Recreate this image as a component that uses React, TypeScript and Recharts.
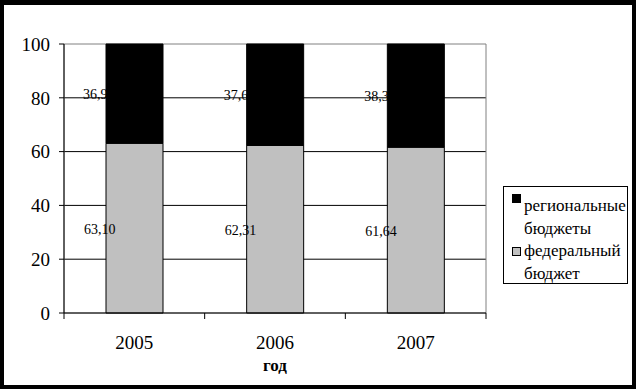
import React from 'react';
import { BarChart, Bar, XAxis, YAxis, CartesianGrid, ReferenceArea, Legend, LabelList } from 'recharts';

const years = ['2005', '2006', '2007'];
const federal = [63.1, 62.31, 61.64];
const regional = [36.9, 37.69, 38.36];
const yTicks = [0, 20, 40, 60, 80, 100];
const gridValues = [20, 40, 60, 80];
const federalName = 'федеральный бюджет';
const regionalName = 'региональные бюджеты';
const axisTitle = 'год';

const data = years.map((y, i) => ({ year: y, federal: federal[i], regional: regional[i] }));

const FONT = '"Liberation Serif", "Times New Roman", serif';
const fmt = (v: number) => v.toFixed(2).replace('.', ',');

const XTick = (props: any) => {
  const { x, y, payload, index } = props;
  const off = payload && payload.offset ? payload.offset : 0;
  return (
    <g>
      <line x1={x - off} y1={y} x2={x - off} y2={y + 6} stroke="#000" />
      {index === years.length - 1 && <line x1={x + off} y1={y} x2={x + off} y2={y + 6} stroke="#000" />}
      <text x={x} y={y + 36} textAnchor="middle" fontFamily={FONT} fontSize={19} fill="#000">
        {payload.value}
      </text>
    </g>
  );
};

const makeLabel = (shift: number, dyv: number) => (props: any) => {
  const { x, y, height, value } = props;
  return (
    <text
      x={Number(x) + shift}
      y={Number(y) + Number(height) / 2 + dyv}
      fontFamily={FONT}
      fontSize={14}
      fill="#000"
      dominantBaseline="middle"
    >
      {fmt(Number(value))}
    </text>
  );
};

const LegendBox = () => {
  const lineStyle = (top: number): React.CSSProperties => ({
    position: 'absolute',
    left: 20,
    top,
    fontFamily: FONT,
    fontSize: 17,
    lineHeight: '20px',
    whiteSpace: 'nowrap',
    color: '#000',
  });
  const sw = (top: number, color: string): React.CSSProperties => ({
    position: 'absolute',
    left: 8,
    top,
    width: 9,
    height: 9,
    boxSizing: 'border-box',
    border: '1px solid #000',
    background: color,
  });
  const [r1, r2] = regionalName.split(' ');
  const [f1, f2] = federalName.split(' ');
  return (
    <div
      style={{
        position: 'relative',
        width: 125,
        height: 98,
        boxSizing: 'border-box',
        border: '1px solid #000',
        background: '#fff',
      }}
    >
      <div style={sw(7, '#000')} />
      <div style={lineStyle(9)}>{r1}</div>
      <div style={lineStyle(32)}>{r2}</div>
      <div style={sw(60, '#c0c0c0')} />
      <div style={lineStyle(54)}>{f1}</div>
      <div style={lineStyle(77)}>{f2}</div>
    </div>
  );
};

export default function App() {
  return (
    <div
      style={{
        position: 'absolute',
        left: 0,
        top: 0,
        width: 636,
        height: 389,
        boxSizing: 'border-box',
        borderStyle: 'solid',
        borderColor: '#000',
        borderWidth: '5px 4px 4px 4px',
        background: '#fff',
      }}
    >
      <BarChart
        width={628}
        height={380}
        data={data}
        margin={{ top: 39, right: 146, bottom: 0, left: 0 }}
      >
        <ReferenceArea y1={0} y2={100} fill="none" stroke="#808080" strokeWidth={1} ifOverflow="visible" />
        <CartesianGrid horizontal={true} vertical={false} horizontalValues={gridValues} stroke="#000" strokeOpacity={1} />
        <XAxis
          dataKey="year"
          height={72}
          axisLine={{ stroke: '#000' }}
          tickLine={false}
          tickSize={0}
          tickMargin={0}
          tick={<XTick />}
          interval={0}
          label={{ value: axisTitle, position: 'insideBottom', offset: 14, fontFamily: FONT, fontSize: 17, fontWeight: 'bold', fill: '#000' }}
        />
        <YAxis
          width={60}
          domain={[0, 100]}
          ticks={yTicks}
          interval={0}
          axisLine={{ stroke: '#000' }}
          tickLine={{ stroke: '#000' }}
          tickSize={5}
          tickMargin={9}
          tick={{ fontFamily: FONT, fontSize: 19, fill: '#000' }}
        />
        <Legend
          layout="horizontal"
          verticalAlign="middle"
          align="center"
          content={<LegendBox />}
          wrapperStyle={{ position: 'absolute', left: 499, top: 181, width: 125, height: 98 }}
        />
        <Bar dataKey="federal" name={federalName} stackId="a" fill="#c0c0c0" stroke="#000" strokeWidth={1} barSize={57} isAnimationActive={false}>
          <LabelList dataKey="federal" content={makeLabel(-22, 3)} />
        </Bar>
        <Bar dataKey="regional" name={regionalName} stackId="a" fill="#000" stroke="#000" strokeWidth={1} barSize={57} isAnimationActive={false}>
          <LabelList dataKey="regional" content={makeLabel(-23, 2)} />
        </Bar>
      </BarChart>
    </div>
  );
}
